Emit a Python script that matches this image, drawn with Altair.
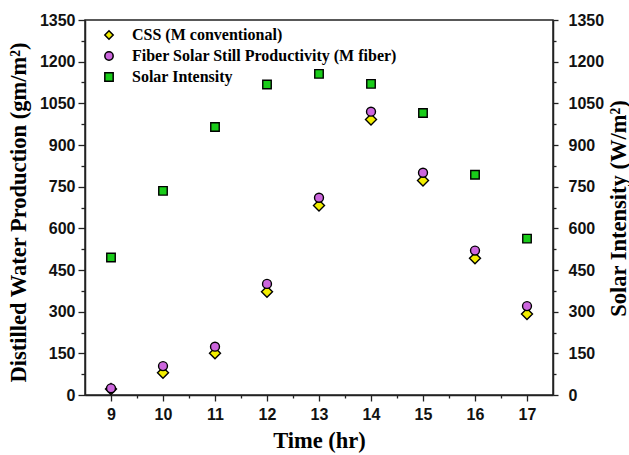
import altair as alt
import pandas as pd

# Hourly readings
hours = [9, 10, 11, 12, 13, 14, 15, 16, 17]
css_output = [22, 80, 150, 372, 682, 992, 772, 492, 292]
fiber_output = [24, 104, 174, 400, 710, 1020, 800, 520, 320]
solar_intensity = [495, 735, 965, 1118, 1156, 1120, 1015, 793, 563]

series_names = [
    "CSS (M conventional)",
    "Fiber Solar Still Productivity (M fiber)",
    "Solar Intensity",
]
series_colors = ["#f2ee00", "#cc66dd", "#19cc19"]
series_shapes = ["diamond", "circle", "square"]

y_major = list(range(0, 1351, 150))
y_minor = list(range(75, 1350, 150))
x_major = hours
x_minor = [h + 0.5 for h in hours[:-1]]

css_df = pd.DataFrame({"hour": hours, "value": css_output, "series": series_names[0]})
fiber_df = pd.DataFrame({"hour": hours, "value": fiber_output, "series": series_names[1]})
solar_df = pd.DataFrame({"hour": hours, "value": solar_intensity, "series": series_names[2]})

SANS = "Liberation Sans"
SERIF = "Liberation Serif"

x_scale = alt.Scale(domain=[8.5, 17.5], nice=False, zero=False)
y_scale = alt.Scale(domain=[0, 1350], nice=False)

color = alt.Color(
    "series:N",
    scale=alt.Scale(domain=series_names, range=series_colors),
    legend=alt.Legend(
        title=None,
        orient="none",
        legendX=16,
        legendY=7,
        labelFont=SERIF,
        labelFontWeight="bold",
        labelFontSize=16,
        labelColor="black",
        labelLimit=0,
        symbolSize=70,
        symbolStrokeColor="black",
        symbolStrokeWidth=1.5,
        rowPadding=5,
        labelOffset=15,
        padding=0,
    ),
)
shape = alt.Shape(
    "series:N",
    scale=alt.Scale(domain=series_names, range=series_shapes),
    legend=None,
)

tick_common = dict(
    labelFont=SANS,
    labelFontWeight="bold",
    labelFontSize=16,
    labelColor="#111",
    tickColor="#222",
    tickWidth=1.3,
    domainColor="#222",
    domainWidth=1.5,
    grid=False,
    titleFont=SERIF,
    titleFontWeight="bold",
    titleFontSize=22.5,
    titleColor="black",
)

x_main_axis = alt.Axis(
    orient="bottom", values=x_major, format="d", tickSize=6, labelPadding=5,
    title="Time (hr)", titleX=234, titleY=45, titleBaseline="middle", **tick_common,
)
x_minor_axis = alt.Axis(
    orient="bottom", values=x_minor, tickSize=3, labels=False, domain=False,
    title=None, tickColor="#222", tickWidth=1.3, grid=False,
)
y_left_axis = alt.Axis(
    orient="left", values=y_major, format="d", tickSize=7, labelPadding=3,
    title="Distilled Water Production (gm/m²)", titleX=-67, titleY=192,
    titleBaseline="middle", titleAngle=270, **tick_common,
)
y_left_minor = alt.Axis(
    orient="left", values=y_minor, tickSize=4, labels=False, domain=False,
    title=None, tickColor="#222", tickWidth=1.3, grid=False,
)
y_right_axis = alt.Axis(
    orient="right", values=y_major, format="d", tickSize=5, labelPadding=10,
    title="Solar Intensity (W/m²)", titleX=65, titleY=188,
    titleBaseline="middle", titleAngle=270, **tick_common,
)
y_right_minor = alt.Axis(
    orient="right", values=y_minor, tickSize=3, labels=False, domain=False,
    title=None, tickColor="#222", tickWidth=1.3, grid=False,
)

css_layer = alt.Chart(css_df).mark_point(
    filled=True, size=121, stroke="black", strokeWidth=1.4, opacity=1
).encode(
    x=alt.X("hour:Q", scale=x_scale, axis=x_main_axis),
    y=alt.Y("value:Q", scale=y_scale, axis=y_left_axis),
    color=color,
    shape=shape,
)

fiber_layer = alt.Chart(fiber_df).mark_point(
    filled=True, size=80, stroke="black", strokeWidth=1.4, opacity=1
).encode(
    x=alt.X("hour:Q", scale=x_scale, axis=x_minor_axis),
    y=alt.Y("value:Q", scale=y_scale, axis=y_left_minor),
    color=color,
    shape=shape,
)

solar_layer = alt.Chart(solar_df).mark_point(
    filled=True, size=72, stroke="black", strokeWidth=1.4, opacity=1
).encode(
    x=alt.X("hour:Q", scale=x_scale, axis=None),
    y=alt.Y("value:Q", scale=y_scale, axis=y_right_axis),
    color=color,
    shape=shape,
)

solar_minor_layer = alt.Chart(solar_df).mark_point(opacity=0).encode(
    x=alt.X("hour:Q", scale=x_scale, axis=None),
    y=alt.Y("value:Q", scale=y_scale, axis=y_right_minor),
)

chart = (
    alt.layer(css_layer, fiber_layer, solar_layer, solar_minor_layer)
    .resolve_scale(x="independent", y="independent", color="shared", shape="shared")
    .properties(
        width=468,
        height=375,
        autosize=alt.AutoSizeParams(type="none"),
        padding={"left": 85, "top": 20, "right": 76, "bottom": 60},
        background="white",
    )
    .configure_view(stroke="#222", strokeWidth=1.5)
)

chart.save("out.html", embed_options={"renderer": "svg", "actions": False})
